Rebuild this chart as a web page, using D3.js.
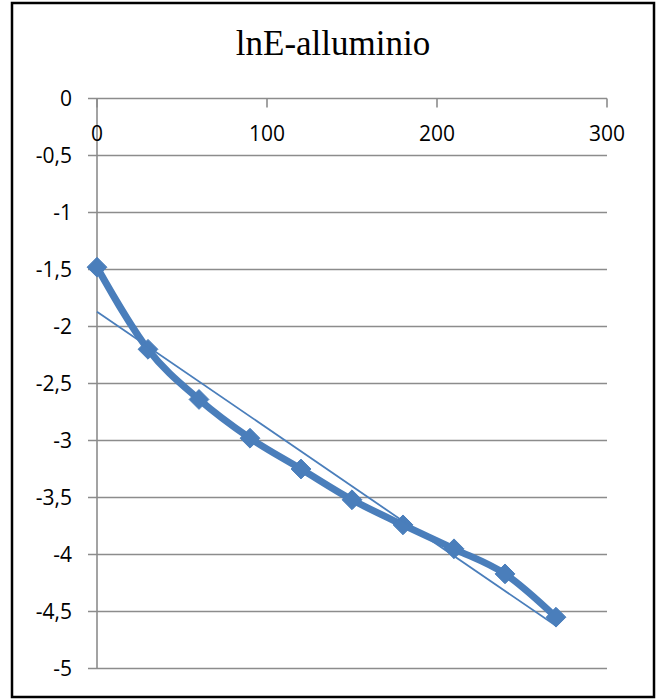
<!DOCTYPE html>
<html>
<head>
<meta charset="utf-8">
<script src="https://cdn.jsdelivr.net/npm/d3@7"></script>
<style>
  html, body { margin: 0; padding: 0; background: #fff; }
  svg { display: block; }
  .title { font-family: "Liberation Serif", "DejaVu Serif", serif; }
  .lbl { font-family: "Open Sans", "Noto Sans", sans-serif; }
</style>
</head>
<body>
<svg id="chart" width="662" height="700"></svg>
<script>
const title = "lnE-alluminio";
const xValues = [0, 30, 60, 90, 120, 150, 180, 210, 240, 270];
const yValues = [-1.48, -2.2, -2.64, -2.98, -3.25, -3.52, -3.74, -3.95, -4.17, -4.55];
const xTicks = [0, 100, 200, 300];
const yTicks = [0, -0.5, -1, -1.5, -2, -2.5, -3, -3.5, -4, -4.5, -5];

const svg = d3.select("#chart");
const W = 662, H = 700;
const pLeft = 97, pRight = 607, pTop = 98.5, pBottom = 668.5;
const blue = "#4a7ebb";
const grid = "#8c8c8c";

svg.append("rect").attr("x", 0).attr("y", 0).attr("width", W).attr("height", H).attr("fill", "#fff");
svg.append("rect").attr("x", 12).attr("y", 3).attr("width", 642).attr("height", 694)
  .attr("fill", "none").attr("stroke", "#000").attr("stroke-width", 2.5);

const x = d3.scaleLinear().domain([0, 300]).range([pLeft, pRight]);
const y = d3.scaleLinear().domain([-5, 0]).range([pBottom, pTop]);

svg.append("text").attr("class", "title").attr("x", 333).attr("y", 55).attr("text-anchor", "middle")
  .attr("font-size", 35).attr("fill", "#000")
  .text(title);

// horizontal gridlines with y-axis ticks
const fmt = v => String(v).replace(".", ",");
const gy = svg.append("g");
yTicks.forEach(v => {
  gy.append("line").attr("x1", pLeft - 9).attr("x2", pRight).attr("y1", y(v)).attr("y2", y(v))
    .attr("stroke", grid).attr("stroke-width", 1.6);
  gy.append("text").attr("class", "lbl").attr("x", 72).attr("y", y(v)).attr("dy", "0.36em").attr("text-anchor", "end")
    .attr("font-size", 21).attr("fill", "#000")
    .text(fmt(v));
});

// vertical axis line
svg.append("line").attr("x1", x(0)).attr("x2", x(0)).attr("y1", y(0)).attr("y2", y(-5))
  .attr("stroke", grid).attr("stroke-width", 1.6);

// x-axis at y=0 with ticks downward
const gx = svg.append("g");
xTicks.forEach(v => {
  gx.append("line").attr("x1", x(v)).attr("x2", x(v)).attr("y1", y(0)).attr("y2", y(0) + 9)
    .attr("stroke", grid).attr("stroke-width", 1.6);
  gx.append("text").attr("class", "lbl").attr("x", x(v)).attr("y", y(0) + 35).attr("dy", "0.36em").attr("text-anchor", "middle")
    .attr("font-size", 21).attr("fill", "#000")
    .text(v);
});

const data = xValues.map((d, i) => ({ x: d, y: yValues[i] }));

// series line
svg.append("path").datum(data)
  .attr("d", d3.line().x(d => x(d.x)).y(d => y(d.y)).curve(d3.curveMonotoneX))
  .attr("fill", "none").attr("stroke", blue).attr("stroke-width", 7).attr("stroke-linejoin", "round");

// markers
svg.append("g").selectAll("path").data(data).join("path")
  .attr("transform", d => `translate(${x(d.x)},${y(d.y)})`)
  .attr("d", d3.symbol().type(d3.symbolDiamond2).size(250))
  .attr("fill", blue).attr("stroke", blue).attr("stroke-width", 1);

// linear trendline (least squares)
const n = data.length;
const mx = d3.mean(xValues), my = d3.mean(yValues);
const slope = d3.sum(data, d => (d.x - mx) * (d.y - my)) / d3.sum(data, d => (d.x - mx) ** 2);
const icpt = my - slope * mx;
const x0 = xValues[0], x1 = xValues[n - 1];
svg.append("line").attr("x1", x(x0)).attr("y1", y(icpt + slope * x0))
  .attr("x2", x(x1)).attr("y2", y(icpt + slope * x1))
  .attr("stroke", blue).attr("stroke-width", 1.8);
</script>
</body>
</html>
